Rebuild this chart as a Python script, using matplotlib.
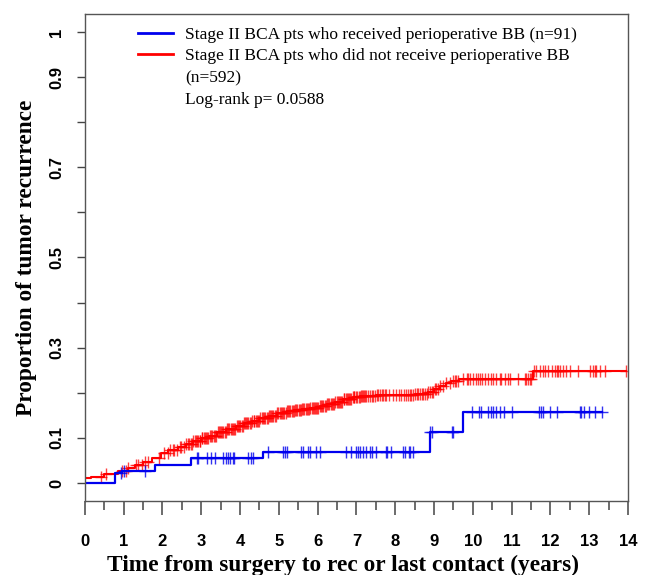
import numpy as np
import matplotlib
matplotlib.use("Agg")
import matplotlib.pyplot as plt
from matplotlib.lines import Line2D
from matplotlib.ticker import MultipleLocator

# blue group: received perioperative BB (n=91)
bb_times = [0.0, 0.77, 0.96, 1.80, 2.73, 4.60, 8.89, 9.75]
bb_values = [0.0, 0.022, 0.027, 0.040, 0.055, 0.069, 0.112, 0.158]
bb_end = 13.32
bb_censor = [0.92, 1.01, 1.55, 2.88, 2.92, 3.14, 3.25, 3.35, 3.57, 3.63, 3.68,
             3.74, 3.81, 3.85, 4.21, 4.27, 4.34, 4.73, 5.11, 5.15, 5.21, 5.56,
             5.63, 5.76, 5.80, 5.97, 6.06, 6.74, 6.87, 7.00, 7.05, 7.10, 7.17,
             7.24, 7.36, 7.41, 7.50, 7.76, 7.80, 7.88, 8.20, 8.25, 8.36, 8.39,
             8.46, 8.89, 8.96, 9.47, 9.50, 9.99, 10.16, 10.20, 10.40, 10.48,
             10.52, 10.61, 10.70, 10.80, 11.00, 11.71, 11.77, 11.81, 11.98,
             12.17, 12.76, 12.80, 12.86, 13.00, 13.14, 13.32]

# red group: did not receive perioperative BB (n=592)
no_times = [0.0, 0.17, 0.5, 0.85, 1.1, 1.3, 1.5, 1.72, 1.95, 2.15, 2.4, 2.6,
            2.8, 3.0, 3.2, 3.4, 3.65, 3.9, 4.1, 4.3, 4.5, 4.75, 4.95, 5.2,
            5.4, 5.6, 5.8, 6.05, 6.25, 6.45, 6.65, 6.9, 7.1, 7.5, 8.0, 8.5,
            8.85, 9.0, 9.15, 9.3, 9.45, 9.65, 11.55]
no_values = [0.010, 0.014, 0.020, 0.027, 0.033, 0.040, 0.047, 0.055, 0.066,
             0.073, 0.080, 0.086, 0.093, 0.099, 0.105, 0.112, 0.120, 0.127,
             0.133, 0.138, 0.143, 0.149, 0.155, 0.159, 0.162, 0.164, 0.167,
             0.171, 0.174, 0.180, 0.187, 0.190, 0.192, 0.194, 0.196, 0.198,
             0.201, 0.208, 0.214, 0.221, 0.226, 0.231, 0.249]
no_end = 13.96
no_censor = [0.42, 0.55, 0.95, 1.05, 1.12, 1.31, 1.37, 1.46, 1.55, 1.63, 1.91,
             2.04, 2.13, 2.19, 2.26, 2.31, 2.37, 2.46, 2.49, 2.56, 2.61, 2.65,
             2.69, 2.73, 2.77, 2.80, 2.83, 2.86, 2.88, 2.91, 2.96, 2.98, 3.01,
             3.03, 3.06, 3.09, 3.13, 3.15, 3.18, 3.22, 3.26, 3.29, 3.32, 3.35,
             3.38, 3.42, 3.45, 3.48, 3.51, 3.54, 3.57, 3.60, 3.63, 3.66, 3.70,
             3.72, 3.76, 3.79, 3.83, 3.85, 3.88, 3.91, 3.96, 3.98, 4.01, 4.04,
             4.07, 4.10, 4.13, 4.15, 4.18, 4.21, 4.26, 4.29, 4.32, 4.35, 4.37,
             4.40, 4.43, 4.46, 4.49, 4.52, 4.57, 4.59, 4.62, 4.65, 4.69, 4.71,
             4.75, 4.78, 4.80, 4.83, 4.86, 4.91, 4.93, 4.96, 4.99, 5.03, 5.06,
             5.09, 5.12, 5.14, 5.18, 5.21, 5.23, 5.26, 5.29, 5.34, 5.36, 5.39,
             5.42, 5.44, 5.48, 5.51, 5.55, 5.57, 5.60, 5.63, 5.66, 5.69, 5.72,
             5.74, 5.78, 5.81, 5.85, 5.87, 5.90, 5.94, 5.96, 5.99, 6.02, 6.07,
             6.09, 6.12, 6.15, 6.19, 6.22, 6.25, 6.28, 6.30, 6.34, 6.37, 6.39,
             6.42, 6.45, 6.49, 6.52, 6.55, 6.58, 6.60, 6.64, 6.67, 6.69, 6.72,
             6.75, 6.78, 6.81, 6.84, 6.86, 6.90, 6.93, 6.95, 6.98, 7.01, 7.06,
             7.08, 7.11, 7.14, 7.17, 7.20, 7.23, 7.26, 7.30, 7.35, 7.39, 7.43,
             7.47, 7.52, 7.56, 7.60, 7.65, 7.69, 7.73, 7.77, 7.84, 7.95, 8.03,
             8.10, 8.16, 8.22, 8.29, 8.34, 8.38, 8.42, 8.46, 8.51, 8.55, 8.59,
             8.63, 8.68, 8.72, 8.76, 8.81, 8.85, 8.89, 8.94, 8.98, 9.02, 9.06,
             9.11, 9.15, 9.23, 9.32, 9.41, 9.49, 9.54, 9.58, 9.62, 9.75, 9.84,
             9.88, 9.92, 10.01, 10.09, 10.14, 10.18, 10.25, 10.31, 10.40, 10.48,
             10.52, 10.61, 10.70, 10.74, 10.82, 10.91, 10.95, 11.17, 11.34,
             11.38, 11.43, 11.47, 11.51, 11.57, 11.64, 11.73, 11.81, 11.86,
             11.94, 12.03, 12.11, 12.16, 12.20, 12.24, 12.33, 12.41, 12.50,
             12.71, 13.02, 13.10, 13.14, 13.19, 13.27, 13.40, 13.96]

y_ticks = [0, 0.1, 0.2, 0.3, 0.4, 0.5, 0.6, 0.7, 0.8, 0.9, 1.0]
y_labels = ["0", "0.1", "", "0.3", "", "0.5", "", "0.7", "", "0.9", "1"]

BLUE = "#0000ee"
RED = "#ff0000"


def curve(times, values, end):
    t = np.append(times, end)
    v = np.append(values, values[-1])
    return t, v


def at(times, values, x):
    idx = np.searchsorted(times, x, side="right") - 1
    return np.asarray(values)[idx]


fig = plt.figure(figsize=(6.48, 5.75), dpi=100)
ax = fig.add_axes([0.131, 0.1287, 0.838, 0.847])

t, v = curve(no_times, no_values, no_end)
ax.step(t, v, where="post", color=RED, lw=1.5)
ax.plot(no_censor, at(no_times, no_values, no_censor), ls="none",
        marker="+", ms=8, mew=1.0, color=RED, alpha=0.75)

t, v = curve(bb_times, bb_values, bb_end)
ax.step(t, v, where="post", color=BLUE, lw=1.6)
ax.plot(bb_censor, at(bb_times, bb_values, bb_censor), ls="none",
        marker="+", ms=8, mew=1.0, color=BLUE, alpha=0.8)

ax.set_xlim(0, 14)
ax.set_ylim(-0.04, 1.04)

sans = "Liberation Sans"
serif = "Liberation Serif"

ax.xaxis.set_minor_locator(MultipleLocator(0.5))
ax.tick_params(axis="x", which="major", length=10, width=1.1, color="#444444",
               pad=14)
ax.tick_params(axis="x", which="minor", length=6.5, width=1.1, color="#444444")
ax.set_xticks(range(0, 15))
ax.set_xticklabels([str(i) for i in range(0, 15)], fontfamily=sans,
                   fontweight="bold", fontsize=12)

ax.set_yticks(y_ticks)
ax.set_yticklabels(y_labels, fontfamily=sans, fontweight="bold", fontsize=12,
                   rotation=90, va="center")
ax.tick_params(axis="y", length=6, width=1.0, color="#444444", pad=9)

for s in ax.spines.values():
    s.set_color("#555555")
    s.set_linewidth(1.0)

ax.set_xlabel("Time from surgery to rec or last contact (years)",
              fontfamily=serif, fontweight="bold", fontsize=16.8, labelpad=4)
ax.xaxis.label.set_x(0.475)
ax.set_ylabel("Proportion of tumor recurrence", fontfamily=serif,
              fontweight="bold", fontsize=16.8, labelpad=9)

handles = [Line2D([], [], color=BLUE, lw=2),
           Line2D([], [], color=RED, lw=2),
           Line2D([], [], color="none"),
           Line2D([], [], color="none")]
labels = ["Stage II BCA pts who received perioperative BB (n=91)",
          "Stage II BCA pts who did not receive perioperative BB",
          "(n=592)",
          "Log-rank p= 0.0588"]
ax.legend(handles, labels, loc="upper left", bbox_to_anchor=(0.098, 0.974),
          frameon=False, prop={"family": serif, "size": 12.5},
          handlelength=2.0, handletextpad=0.7, labelspacing=0.32,
          borderpad=0, borderaxespad=0)

fig.savefig("out.png", dpi=100)
